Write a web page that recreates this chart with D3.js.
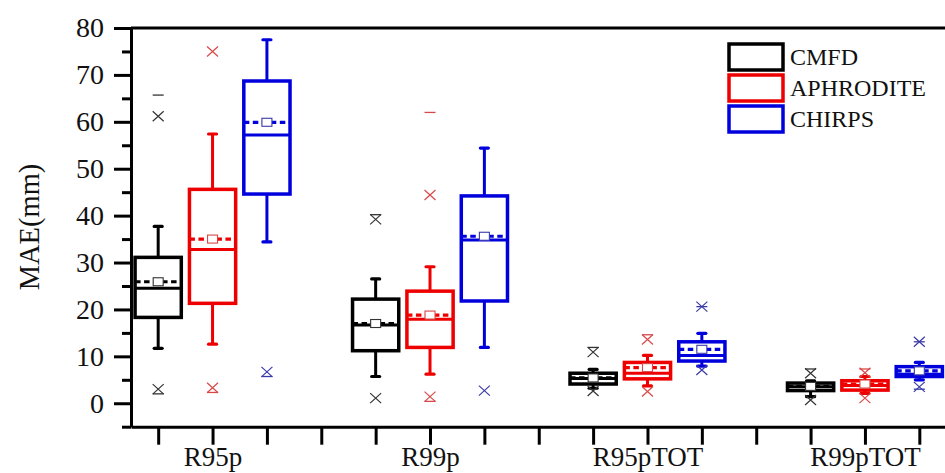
<!DOCTYPE html>
<html>
<head>
<meta charset="utf-8">
<script src="https://cdn.jsdelivr.net/npm/d3@7"></script>
<style>
  body { margin: 0; background: #fff; }
  svg { display: block; font-family: "Liberation Serif", "Times New Roman", serif; }
</style>
</head>
<body>
<div id="chart"></div>
<script>
// categories and series
const categories = ["R95p", "R99p", "R95pTOT", "R99pTOT"];
const seriesNames = ["CMFD", "APHRODITE", "CHIRPS"];
const seriesColors = ["#000000", "#ee0000", "#0000dd"];
const markColors = ["#333333", "#d84848", "#3a3aa8"];

// box stats per category: [whisker low, Q1, median, Q3, whisker high]
const cmfdBox = [[11.7, 18.3, 24.5, 31.1, 37.7], [5.7, 11.2, 16.7, 22.2, 26.5], [3.2, 4.1, 5.3, 6.4, 7.2], [1.4, 2.7, 3.5, 4.3, 4.8]];
const aphroBox = [[12.6, 21.3, 32.8, 45.6, 57.4], [6.2, 11.9, 17.9, 23.9, 29.1], [3.7, 5.2, 6.4, 8.7, 10.2], [2.1, 2.8, 3.8, 4.8, 5.7]];
const chirpsBox = [[34.4, 44.6, 57.2, 68.7, 77.5], [11.9, 21.8, 34.8, 44.2, 54.4], [7.9, 9.0, 10.2, 13.1, 14.9], [5.0, 5.7, 6.2, 7.8, 8.7]];

// means
const cmfdMean = [25.9, 17.0, 5.4, 3.6];
const aphroMean = [35.0, 18.8, 7.6, 4.1];
const chirpsMean = [59.9, 35.6, 11.5, 6.9];

// 1% / 99% marks (x) and min / max marks (-)
const cmfdPct = [[3.0, 61.2], [1.1, 39.2], [2.6, 10.9], [0.7, 6.4]];
const aphroPct = [[3.3, 75.0], [1.4, 44.4], [2.5, 13.6], [1.1, 6.5]];
const chirpsPct = [[6.7], [2.7], [7.1, 20.6], [3.5, 13.1]];
const cmfdMinMax = [[2.0, 65.7], [40.2], [11.9], [7.3]];
const aphroMinMax = [[2.3], [0.4, 62.0], [14.6], [7.3]];
const chirpsMinMax = [[5.7], [], [20.6], [3.0, 13.1]];

const yTicks = d3.range(0, 81, 10);
const yMinorTicks = d3.range(-5, 80, 10);

const allBox = [cmfdBox, aphroBox, chirpsBox];
const allMean = [cmfdMean, aphroMean, chirpsMean];
const allPct = [cmfdPct, aphroPct, chirpsPct];
const allMinMax = [cmfdMinMax, aphroMinMax, chirpsMinMax];

const width = 945, height = 473;
const plotLeft = 131, plotTop = 28, plotBottom = 426.7, plotRight = 946.5;

const svg = d3.select("#chart").append("svg")
  .attr("width", width)
  .attr("height", height);

// slot positions 1..15, categories centred on 2, 6, 10, 14
let x = d3.scaleLinear().domain([0.5, 15.5]).range([plotLeft, plotRight]);
let y = d3.scaleLinear().domain([-5, 80]).range([plotBottom, plotTop]);
let step = x(2) - x(1);
let boxW = step * 0.85;
let catPos = categories.map((c, i) => 2 + 4 * i);

// frame
svg.append("line").attr("x1", plotLeft).attr("x2", plotRight + 2).attr("y1", plotTop).attr("y2", plotTop)
  .attr("stroke", "#000").attr("stroke-width", 3);
svg.append("line").attr("x1", plotRight).attr("x2", plotRight).attr("y1", plotTop).attr("y2", plotBottom)
  .attr("stroke", "#000").attr("stroke-width", 3);

// y axis
let yAxis = svg.append("g").attr("transform", `translate(${plotLeft},0)`)
  .call(d3.axisLeft(y).tickValues(yTicks).tickSize(17).tickPadding(10).tickSizeOuter(0));
svg.append("g").attr("transform", `translate(${plotLeft},0)`)
  .call(d3.axisLeft(y).tickValues(yMinorTicks).tickSize(9).tickFormat("").tickSizeOuter(0))
  .select(".domain").remove();

// x axis
let xAxis = svg.append("g").attr("transform", `translate(0,${plotBottom})`)
  .call(d3.axisBottom(x).tickValues(d3.range(1, 16)).tickSize(18).tickPadding(3).tickSizeOuter(0)
    .tickFormat(d => { let i = catPos.indexOf(d); return i >= 0 ? categories[i] : ""; }));

svg.selectAll(".domain").attr("stroke-width", 3).attr("stroke", "#000");
svg.selectAll(".tick line").attr("stroke-width", 3).attr("stroke", "#000");
svg.selectAll(".tick text").attr("font-family", "Liberation Serif, Times New Roman, serif")
  .attr("font-size", 27).attr("fill", "#111");
xAxis.selectAll(".tick text").attr("dy", "0.66em");
yAxis.selectAll(".tick text").attr("font-size", 28);

// y title
svg.append("text")
  .attr("transform", "translate(39,227) rotate(-90)")
  .attr("text-anchor", "middle")
  .attr("font-size", 28.5)
  .attr("fill", "#111")
  .text("MAE(mm)");

// boxes
seriesNames.forEach((name, s) => {
  let col = seriesColors[s];
  let mcol = markColors[s];
  let g = svg.append("g");
  categories.forEach((cat, c) => {
    let cx = x(catPos[c] + s - 1);
    let [lo, q1, med, q3, hi] = allBox[s][c];
    let mean = allMean[s][c];

    // whiskers
    g.append("line").attr("x1", cx).attr("x2", cx).attr("y1", y(q3)).attr("y2", y(hi))
      .attr("stroke", col).attr("stroke-width", 3);
    g.append("line").attr("x1", cx).attr("x2", cx).attr("y1", y(q1)).attr("y2", y(lo))
      .attr("stroke", col).attr("stroke-width", 3);
    [lo, hi].forEach(v => {
      g.append("line").attr("x1", cx - 4).attr("x2", cx + 4).attr("y1", y(v)).attr("y2", y(v))
        .attr("stroke", col).attr("stroke-width", 3.2).attr("stroke-linecap", "round");
    });

    // box
    g.append("rect")
      .attr("x", cx - boxW / 2).attr("y", y(q3))
      .attr("width", boxW).attr("height", y(q1) - y(q3))
      .attr("fill", "#fff").attr("stroke", col).attr("stroke-width", 3.5);
    // median
    g.append("line").attr("x1", cx - boxW / 2).attr("x2", cx + boxW / 2)
      .attr("y1", y(med)).attr("y2", y(med))
      .attr("stroke", col).attr("stroke-width", 3);
    // mean line
    g.append("line").attr("x1", cx - boxW / 2).attr("x2", cx + boxW / 2)
      .attr("y1", y(mean)).attr("y2", y(mean))
      .attr("stroke", col).attr("stroke-width", 3.2).attr("stroke-dasharray", "5.5,3.5");
    // mean square
    g.append("rect").attr("x", cx - 5).attr("y", y(mean) - 4).attr("width", 10).attr("height", 8)
      .attr("fill", "#fff").attr("stroke", mcol).attr("stroke-width", 1.1);

    // 1% / 99% crosses
    allPct[s][c].forEach(v => {
      let yy = y(v);
      g.append("path")
        .attr("d", `M${cx - 5.5},${yy - 5}L${cx + 5.5},${yy + 5}M${cx - 5.5},${yy + 5}L${cx + 5.5},${yy - 5}`)
        .attr("stroke", mcol).attr("stroke-width", 1.2).attr("fill", "none");
    });
    // min / max dashes
    allMinMax[s][c].forEach(v => {
      g.append("line").attr("x1", cx - 5.5).attr("x2", cx + 5.5).attr("y1", y(v)).attr("y2", y(v))
        .attr("stroke", mcol).attr("stroke-width", 1.3);
    });
  });
});

// legend
let legend = svg.append("g").attr("transform", "translate(729,44)");
seriesNames.forEach((name, i) => {
  legend.append("rect").attr("x", 0).attr("y", i * 31).attr("width", 54).attr("height", 26)
    .attr("fill", "#fff").attr("stroke", seriesColors[i]).attr("stroke-width", 3.5);
  legend.append("text").attr("x", 61).attr("y", i * 31 + 21)
    .attr("font-size", 24).attr("fill", "#111").text(name);
});
</script>
</body>
</html>
